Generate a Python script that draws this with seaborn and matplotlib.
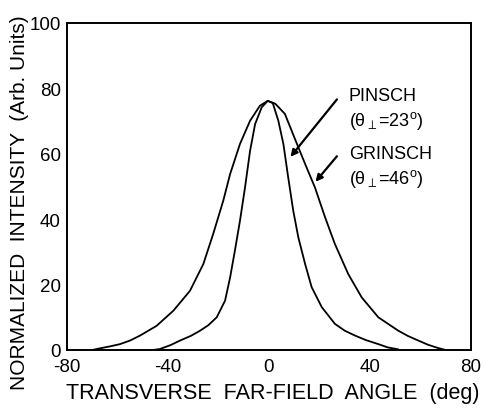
import matplotlib
matplotlib.use("Agg")
import matplotlib.pyplot as plt
import seaborn as sns
import pandas as pd

# PINSCH (theta_perp = 23 deg) far-field profile
pinsch_x = [-46, -43.2, -39, -35.2, -31, -27.3, -24, -20.7, -17.4, -15.4, -13.5, -11.5, -9.5, -7.5,
            -5.5, -2.9, -0.5, 1.5, 3.7, 5.7, 7.6, 9.6, 11.6, 14.3, 16.9, 20.9, 26.1, 30, 34.1, 38.5,
            43.3, 47, 51.2]
pinsch_y = [0, 0.3, 1.5, 2.9, 4.3, 5.9, 7.6, 10, 15.1, 22.2, 30.4, 39.5, 49.7, 60.9,
            69.1, 74.2, 76.2, 75.5, 70.1, 63, 52.8, 42.6, 34.5, 26.3, 19.2, 13.1, 8.0, 5.9, 4.4, 3.0,
            1.8, 0.8, 0.2]

# GRINSCH (theta_perp = 46 deg) far-field profile
grinsch_x = [-70, -67, -63, -59, -55, -51.1, -44.5, -37.9, -31.3, -26.0, -22.1, -18.1, -15.4, -11.5,
             -7.5, -3.6, -0.5, 2.5, 6.3, 10.3, 14.3, 18.2, 22.2, 26.1, 31.4, 36.7, 43.3, 51.2, 55,
             59.1, 63, 67, 70]
grinsch_y = [0, 0.5, 1.1, 1.8, 2.9, 4.4, 7.4, 12.0, 18.1, 26.3, 35.5, 45.7, 53.8, 63.0,
             70.1, 74.7, 76.2, 75.3, 72.2, 64.5, 56.9, 49.7, 40.6, 32.4, 23.2, 16.1, 10.0, 5.9, 4.3,
             2.9, 1.6, 0.6, 0]

x_ticks = [-80, -40, 0, 40, 80]
y_ticks = [0, 20, 40, 60, 80, 100]
labels = ["PINSCH", r"($\theta_{\perp}$=23$^{\rm o}$)", "GRINSCH", r"($\theta_{\perp}$=46$^{\rm o}$)"]

sns.set_theme(style="white")
plt.rcParams['font.family'] = ['Liberation Sans', 'DejaVu Sans']
plt.rcParams['axes.unicode_minus'] = False
plt.rcParams['mathtext.fontset'] = 'custom'
plt.rcParams['mathtext.rm'] = 'Liberation Sans'
plt.rcParams['mathtext.it'] = 'Liberation Sans'

fig = plt.figure(figsize=(4.84, 4.10), dpi=100)
ax = fig.add_axes([67/484, 59/410, (471-67)/484, (351-24)/410])

df = pd.concat([
    pd.DataFrame({"angle": pinsch_x, "intensity": pinsch_y, "laser": "PINSCH"}),
    pd.DataFrame({"angle": grinsch_x, "intensity": grinsch_y, "laser": "GRINSCH"}),
])
sns.lineplot(data=df, x="angle", y="intensity", hue="laser", palette=["black", "black"],
             legend=False, linewidth=1.3, ax=ax, estimator=None, sort=True,
             solid_joinstyle='round')

ax.set_xlim(-80, 80)
ax.set_ylim(0, 100)
ax.set_xticks(x_ticks)
ax.set_xticklabels(["-80", "-40", "0", "40", "80"])
ax.set_xticks([-60, -20, 20, 60], minor=True)
ax.set_yticks(y_ticks)
ax.tick_params(axis='x', which='both', direction='in', length=4, width=1, colors='black',
               labelsize=13.5, pad=6)
ax.tick_params(axis='y', which='major', direction='out', length=3, width=1, colors='black',
               labelsize=13.5, pad=1.5)
for s in ax.spines.values():
    s.set_color('black')
    s.set_linewidth(1.4)

ax.set_xlabel("TRANSVERSE  FAR-FIELD  ANGLE  (deg)", fontsize=15.5, color='black')
ax.xaxis.set_label_coords(0.51, -0.097)
ax.set_ylabel("NORMALIZED  INTENSITY  (Arb. Units)", fontsize=15, color='black')
ax.yaxis.set_label_coords(-0.095, 0.455)

ax.text(31.6, 77.8, labels[0], fontsize=13, va='center', ha='left', color='black')
ax.text(31.6, 70.3, labels[1], fontsize=13, va='center', ha='left', color='black')
ax.text(31.6, 60.1, labels[2], fontsize=13, va='center', ha='left', color='black')
ax.text(31.6, 52.6, labels[3], fontsize=13, va='center', ha='left', color='black')

arrow = dict(arrowstyle='-|>', color='black', lw=1.6, mutation_scale=10)
ax.annotate("", xy=(7.8, 58.4), xytext=(27.6, 77.3), arrowprops=arrow)
ax.annotate("", xy=(17.7, 50.8), xytext=(27.6, 59.9), arrowprops=arrow)

fig.savefig("out.png", dpi=100)
